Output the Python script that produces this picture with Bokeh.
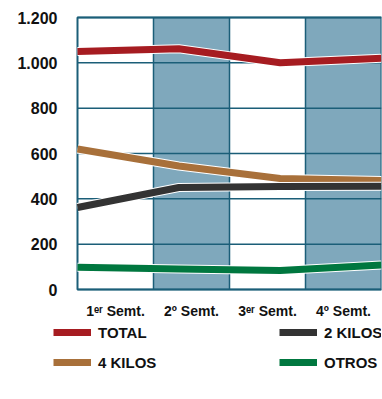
import numpy as np
from bokeh.plotting import figure
from bokeh.models import Legend, LegendItem, Range1d
from bokeh.core.properties import value
from bokeh.embed import file_html
from bokeh.resources import INLINE

categories = ["1ᵉʳ Semt.", "2º Semt.", "3ᵉʳ Semt.", "4º Semt."]
total = [1050, 1062, 1000, 1020]
kilos4 = [620, 545, 490, 481]
kilos2 = [362, 450, 454, 456]
otros = [98, 90, 84, 108]
y_ticks = [0, 200, 400, 600, 800, 1000, 1200]
y_labels = ["0", "200", "400", "600", "800", "1.000", "1.200"]

FONT = "Liberation Sans"
TEAL = "#1b5e78"
SHADE = "#7fa8bc"
INK = "#111111"

n = len(categories)
ymax = y_ticks[-1]
W, H = 382, 392
plot_left, plot_top, plot_bottom = 77, 17, 289          # chart box in pixels
px_per_x = (W - 1 - plot_left) / n
px_per_y = (plot_bottom - plot_top) / ymax

p = figure(width=W, height=H, output_backend="svg", toolbar_location=None,
           x_axis_location=None, y_axis_location=None,
           x_range=Range1d(-plot_left / px_per_x, n),
           y_range=Range1d(-(H - plot_bottom) / px_per_y, ymax + plot_top / px_per_y),
           min_border_left=0, min_border_right=1, min_border_top=0, min_border_bottom=0)
p.background_fill_color = "white"
p.border_fill_color = "white"
p.outline_line_color = None
p.grid.visible = False

# shaded bands (every second category)
band_left = [i for i in range(n) if i % 2 == 1]
p.quad(left=band_left, right=[b + 1 for b in band_left], bottom=0, top=ymax,
       fill_color=SHADE, line_color=None)
# grid lines
p.segment(x0=0, x1=n, y0=y_ticks, y1=y_ticks, line_color=TEAL, line_width=1.5)
p.segment(x0=list(range(1, n)), x1=list(range(1, n)), y0=0, y1=ymax, line_color=TEAL, line_width=1.5)
# frame
p.quad(left=0, right=n, bottom=0, top=ymax, fill_color=None, line_color=TEAL, line_width=2)

# axis labels
p.text(x=0, y=y_ticks, text=y_labels, x_offset=-20, text_align="right", text_baseline="middle",
       text_font=value(FONT), text_font_style="bold", text_font_size="16px", text_color=INK)
p.text(x=[i + 0.5 for i in range(n)], y=0, text=categories, y_offset=21, text_align="center",
       text_baseline="middle", text_font=value(FONT), text_font_style="bold",
       text_font_size="14px", text_color=INK)

xs = list(np.linspace(0, n, n))
series = [("TOTAL", total, "#a61c21"), ("2 KILOS", kilos2, "#333333"),
          ("4 KILOS", kilos4, "#a8703a"), ("OTROS", otros, "#00773f")]
renderers = {}
for name, vals, col in [series[2], series[1], series[3], series[0]]:
    p.line(xs, vals, line_color="white", line_width=9, line_join="round")
    renderers[name] = p.line(xs, vals, line_color=col, line_width=7, line_join="round")

order = ["TOTAL", "4 KILOS", "2 KILOS", "OTROS"]
legend = Legend(items=[LegendItem(label=nm, renderers=[renderers[nm]]) for nm in order],
                location=(53, H - 372), orientation="vertical", ncols=2,
                glyph_width=38, glyph_height=20, label_height=20, label_width=171,
                label_standoff=7, spacing=10, padding=0, margin=0,
                border_line_color=None, background_fill_alpha=0,
                label_text_font=FONT, label_text_font_style="bold",
                label_text_font_size="15px", label_text_color=INK)
p.add_layout(legend, "center")

open("out.html", "w").write(file_html(p, INLINE))
